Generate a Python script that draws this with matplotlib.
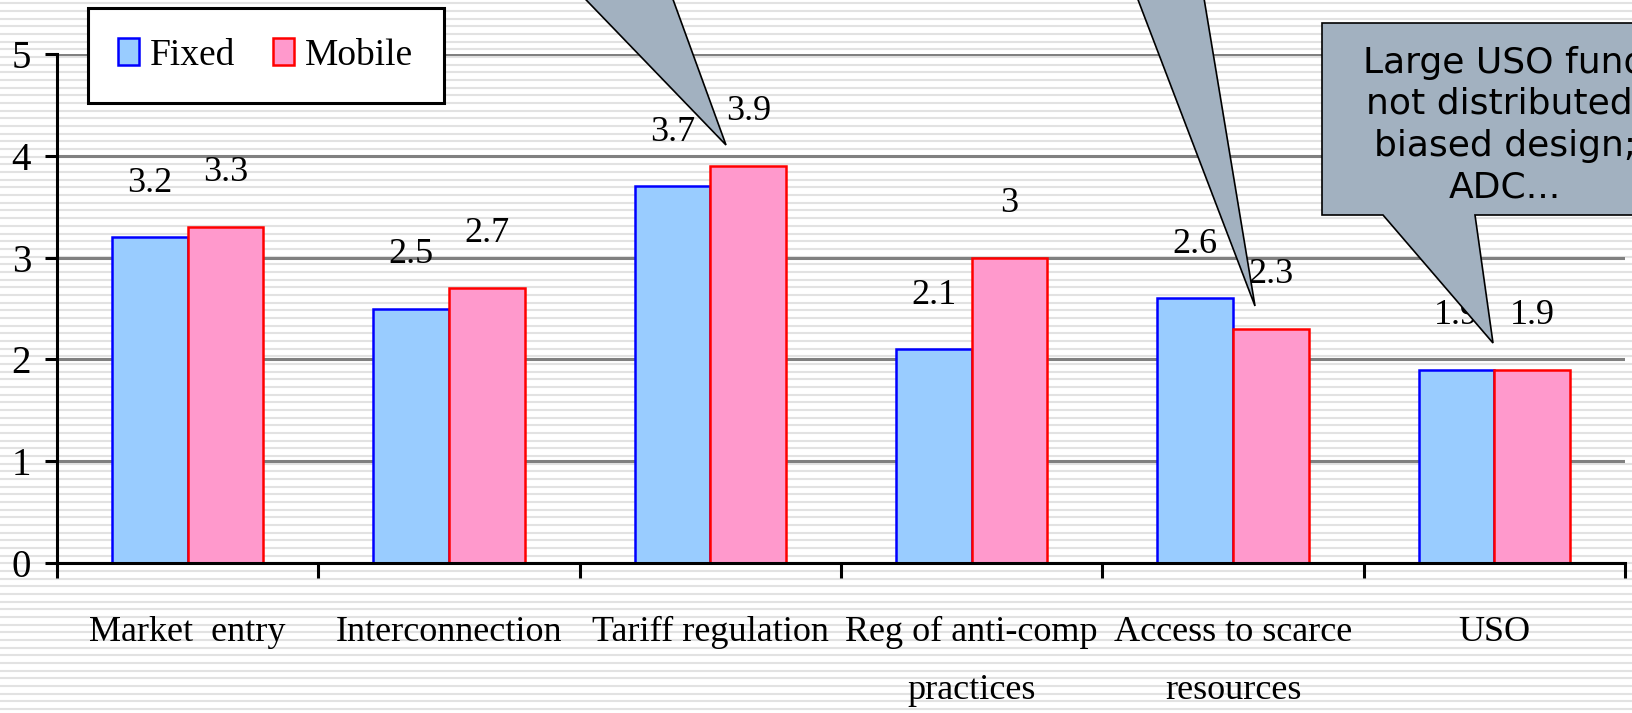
import numpy as np
import matplotlib.pyplot as plt
from matplotlib.patches import Polygon

categories = ['Market  entry', 'Interconnection', 'Tariff regulation',
              'Reg of anti-comp\npractices', 'Access to scarce\nresources', 'USO']
fixed = [3.2, 2.5, 3.7, 2.1, 2.6, 1.9]
mobile = [3.3, 2.7, 3.9, 3.0, 2.3, 1.9]
yticks = [0, 1, 2, 3, 4, 5]
callout_text = 'Large USO fund\nnot distributed;\nbiased design;\nADC...'

plt.rcParams['font.family'] = ['Liberation Serif', 'DejaVu Serif']

W, H = 1633, 713
fig = plt.figure(figsize=(W / 100, H / 100), dpi=100)

# striped background
bg = fig.add_axes([0, 0, 1, 1], zorder=0)
bg.set_xlim(0, W)
bg.set_ylim(H, 0)
bg.axis('off')
bg.hlines(np.arange(3.4, H, 7.67), 0, W, color='#e2e2e2', lw=1.5)

ax = fig.add_axes([57 / W, 1 - 563 / H, (1625 - 57) / W, (563 - 54) / H], zorder=1)
ax.patch.set_alpha(0)

x = np.arange(len(categories))
w = 0.29
ax.bar(x - w / 2, fixed, w, color='#99ccff', edgecolor='#0000ff', lw=1.8,
       label='Fixed', zorder=3)
ax.bar(x + w / 2, mobile, w, color='#ff99cc', edgecolor='#ff0000', lw=1.8,
       label='Mobile', zorder=3)

for xs, vals in ((x - w / 2, fixed), (x + w / 2, mobile)):
    for xi, v in zip(xs, vals):
        ax.annotate('{:g}'.format(v), (xi, v), xytext=(0, 39),
                    textcoords='offset points', ha='center', va='center',
                    fontsize=26)

ax.set_xlim(-0.5, len(categories) - 0.5)
ax.set_ylim(0, 5)
ax.set_yticks(yticks)
ax.set_xticks(x)
ax.set_xticklabels(categories, fontsize=26, linespacing=2.0)
ax.set_xticks(np.arange(-0.5, len(categories), 1), minor=True)
ax.tick_params(axis='x', which='major', length=0, pad=38)
ax.tick_params(axis='x', which='minor', length=11, width=2.2, color='black')
ax.tick_params(axis='y', length=8.6, width=2.2, pad=10, labelsize=28)

ax.set_axisbelow(True)
ax.yaxis.grid(True, color='#808080', lw=2.2)
for s in ('top', 'right'):
    ax.spines[s].set_visible(False)
for s in ('left', 'bottom'):
    ax.spines[s].set_linewidth(2.2)
    ax.spines[s].set_zorder(4)

leg = ax.legend(loc='upper left', bbox_to_anchor=(88 / W, 1 - 8 / H),
                bbox_transform=fig.transFigure, ncol=2, fontsize=27,
                fancybox=False, edgecolor='black', framealpha=1,
                borderpad=0.8, handlelength=0.56, handleheight=0.75,
                handletextpad=0.3, columnspacing=1.0, borderaxespad=0)
leg.get_frame().set_linewidth(2.2)

# callouts
ov = fig.add_axes([0, 0, 1, 1], zorder=2)
ov.set_xlim(0, W)
ov.set_ylim(H, 0)
ov.axis('off')
gray = '#a2b1c0'
ov.add_patch(Polygon([(538, -50), (726, 145), (655, -50)], closed=True,
                     fc=gray, ec='black', lw=1.2))
ov.add_patch(Polygon([(1119, -50), (1255, 306), (1196, -50)], closed=True,
                     fc=gray, ec='black', lw=1.2))
ov.add_patch(Polygon([(1322, 23), (1700, 23), (1700, 215), (1475, 215),
                      (1493, 343), (1383, 215), (1322, 215)], closed=True,
                     fc=gray, ec='black', lw=1.2))
ov.text(1505, 125, callout_text, ha='center', va='center', fontsize=26,
        family='DejaVu Sans', linespacing=1.28)

fig.savefig('out.png', dpi=100, facecolor='white')
